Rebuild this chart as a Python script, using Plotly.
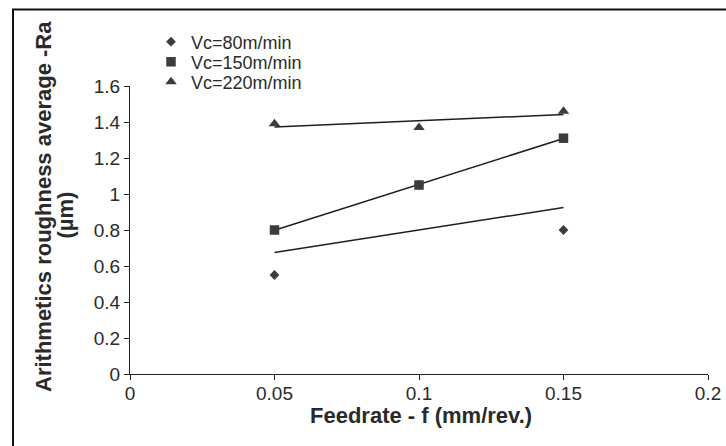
import numpy as np
import plotly.graph_objects as go

# Data
feedrate = [0.05, 0.10, 0.15]
ra_vc80 = [0.55, 1.05, 0.80]
ra_vc150 = [0.80, 1.05, 1.31]
ra_vc220 = [1.39, 1.37, 1.46]
series_names = ["Vc=80m/min", "Vc=150m/min", "Vc=220m/min"]
x_ticks = [0, 0.05, 0.1, 0.15, 0.2]
x_ticklabels = ["0", "0.05", "0.1", "0.15", "0.2"]
y_ticks = [0, 0.2, 0.4, 0.6, 0.8, 1.0, 1.2, 1.4, 1.6]
y_ticklabels = ["0", "0.2", "0.4", "0.6", "0.8", "1", "1.2", "1.4", "1.6"]
x_title = "Feedrate - f (mm/rev.)"
y_title = ["Arithmetics roughness average -Ra", "(µm)"]

FONT = "Liberation Sans, Arial, sans-serif"
MARKER_COLOR = "#3c3c3c"
LINE_COLOR = "#1e1e1e"
TEXT_COLOR = "#2a2a2a"

# plot area at window px x 130..708, y 86..374 (page body margin removed below)
W, H = 726, 446
ML, MT = 130, 86
PW, PH = 578, 288


def px(xw):  # window pixel x -> paper x
    return (xw - ML) / PW


def py(yw):  # window pixel y -> paper y
    return (MT + PH - yw) / PH


fig = go.Figure()

series = [
    (ra_vc80, "diamond", 7.5),
    (ra_vc150, "square", 9.5),
    (ra_vc220, "triangle-up", 10),
]

# trend lines (linear least-squares fit of each series)
xs = np.array(feedrate)
x_line = np.array([xs.min(), xs.max()])
for ys, _, _ in series:
    k, b = np.polyfit(xs, np.array(ys), 1)
    fig.add_trace(go.Scatter(
        x=x_line, y=k * x_line + b, mode="lines",
        line=dict(color=LINE_COLOR, width=1.5),
        showlegend=False, hoverinfo="skip",
    ))

legend_ids = ["legend", "legend2", "legend3"]
for (ys, sym, sz), name, lg in zip(series, series_names, legend_ids):
    fig.add_trace(go.Scatter(
        x=feedrate, y=ys, mode="markers", name=name, legend=lg,
        marker=dict(symbol=sym, size=sz, color=MARKER_COLOR,
                    line=dict(width=0)),
    ))

axis_common = dict(
    showline=True, linecolor="#222", linewidth=1.2,
    ticks="outside", ticklen=5, tickcolor="#222", tickwidth=1.2,
    showgrid=False, zeroline=False, automargin=False,
    ticklabeloverflow="allow",
    tickfont=dict(family=FONT, size=19, color=TEXT_COLOR),
)

fig.update_xaxes(
    range=[0, 0.2], tickvals=x_ticks, ticktext=x_ticklabels,
    ticklabelstandoff=-3,
    **axis_common,
)
fig.update_yaxes(
    range=[0, 1.6], tickvals=y_ticks, ticktext=y_ticklabels,
    **axis_common,
)

# x-axis title
fig.add_annotation(
    text="<b>%s</b>" % x_title,
    xref="paper", yref="paper", x=px(421), y=py(415),
    xanchor="center", yanchor="middle", showarrow=False,
    font=dict(family=FONT, size=22, color=TEXT_COLOR),
)

# y-axis title (two lines placed separately for tight line spacing)
fig.add_annotation(
    text="<b>%s</b>" % y_title[0], textangle=-90,
    xref="paper", yref="paper", x=px(43.5), y=py(206.5),
    xanchor="center", yanchor="middle", showarrow=False,
    font=dict(family=FONT, size=22, color=TEXT_COLOR),
)
fig.add_annotation(
    text="<b>%s</b>" % y_title[1], textangle=-90,
    xref="paper", yref="paper", x=px(64.5), y=py(215),
    xanchor="center", yanchor="middle", showarrow=False,
    font=dict(family=FONT, size=22, color=TEXT_COLOR),
)

# outer frame (only left and top edges are visible in the reference)
frame_line = dict(color="#111", width=2)
fig.add_shape(type="line", xref="paper", yref="paper",
              x0=px(13), x1=px(13), y0=py(450), y1=py(9.5), line=frame_line)
fig.add_shape(type="line", xref="paper", yref="paper",
              x0=px(12), x1=px(730), y0=py(9.5), y1=py(9.5), line=frame_line)

legend_style = dict(
    xanchor="left", yanchor="middle",
    bgcolor="rgba(0,0,0,0)", borderwidth=0,
    font=dict(family=FONT, size=18, color=TEXT_COLOR),
    itemwidth=30,
)
row_y = [42, 62, 82]

fig.update_layout(
    width=W, height=H,
    margin=dict(l=ML, r=W - ML - PW, t=MT, b=H - MT - PH),
    paper_bgcolor="white", plot_bgcolor="white",
    font=dict(family=FONT, color=TEXT_COLOR),
    showlegend=True,
    legend=dict(x=px(151), y=py(row_y[0]), **legend_style),
    legend2=dict(x=px(151), y=py(row_y[1]), **legend_style),
    legend3=dict(x=px(151), y=py(row_y[2]), **legend_style),
)

fig.write_html(
    "out.html",
    config={"displayModeBar": False},
    post_script="document.body.style.margin='0';"
                "document.body.style.overflow='hidden';",
)
